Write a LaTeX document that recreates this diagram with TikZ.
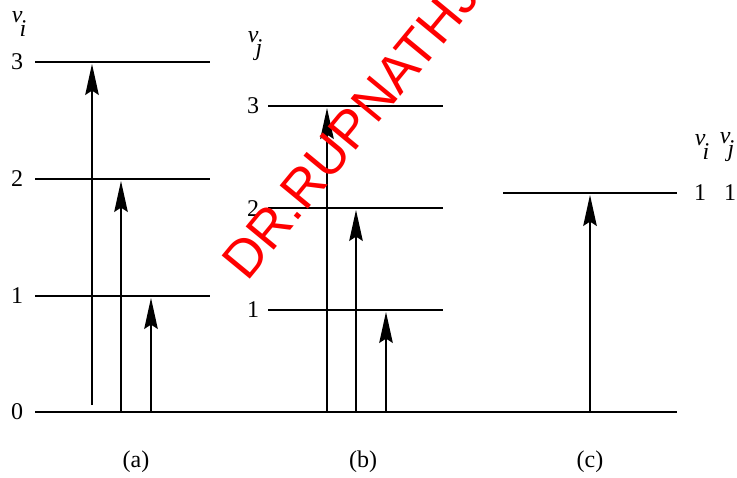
\documentclass[tikz,border=0pt]{standalone}
\usepackage{fontspec}
\setmainfont{Liberation Serif}
\newfontfamily\wmfont{Liberation Sans}
\usetikzlibrary{arrows.meta}
\begin{document}
\begin{tikzpicture}[x=0.5pt,y=-0.5pt,
  level/.style={line width=0.65pt},
  trans/.style={line width=0.65pt,-{Stealth[length=15.5pt,width=6.8pt,inset=2.2pt]}},
  lab/.style={font=\fontsize{12}{14}\selectfont, inner sep=0pt},
  wm/.style={text=red, font=\wmfont\fontsize{26.5}{26.5}\selectfont, inner sep=0pt},
]
\useasboundingbox (0,0) rectangle (737,477);

% ground level
\coordinate (g0) at (35,412);
\coordinate (g1) at (677,412);
\draw[level] (g0) -- (g1);

% (a) levels
\coordinate (a1l) at (35,296); \coordinate (a1r) at (210,296);
\coordinate (a2l) at (35,179); \coordinate (a2r) at (210,179);
\coordinate (a3l) at (35,62);  \coordinate (a3r) at (210,62);
\draw[level] (a1l) -- (a1r);
\draw[level] (a2l) -- (a2r);
\draw[level] (a3l) -- (a3r);
\node[lab] (la0) at (17,412) {0};
\node[lab] (la1) at (17,296) {1};
\node[lab] (la2) at (17,179) {2};
\node[lab] (la3) at (17,62) {3};
\node[lab] (vi) at (19,24) {\itshape v\kern-0.12em\raisebox{-0.55em}{i}};

% (a) transitions
\coordinate (as3) at (92,405);  \coordinate (at3) at (92,64);
\coordinate (as2) at (121,412); \coordinate (at2) at (121,181);
\coordinate (as1) at (151,412); \coordinate (at1) at (151,298);
\draw[trans] (as3) -- (at3);
\draw[trans] (as2) -- (at2);
\draw[trans] (as1) -- (at1);

% (b) levels
\coordinate (b1l) at (268,310); \coordinate (b1r) at (443,310);
\coordinate (b2l) at (268,208); \coordinate (b2r) at (443,208);
\coordinate (b3l) at (268,106); \coordinate (b3r) at (443,106);
\draw[level] (b1l) -- (b1r);
\draw[level] (b2l) -- (b2r);
\draw[level] (b3l) -- (b3r);
\node[lab] (lb1) at (253,310) {1};
\node[lab] (lb2) at (253,209) {2};
\node[lab] (lb3) at (253,106) {3};
\node[lab] (vj) at (255,46) {\itshape v\kern-0.12em\raisebox{-0.55em}{j}};

% (b) transitions
\coordinate (bs3) at (327,412); \coordinate (bt3) at (327,108);
\coordinate (bs2) at (356,412); \coordinate (bt2) at (356,210);
\coordinate (bs1) at (386,412); \coordinate (bt1) at (386,312);
\draw[trans] (bs3) -- (bt3);
\draw[trans] (bs2) -- (bt2);
\draw[trans] (bs1) -- (bt1);

% (c) level
\coordinate (c1l) at (503,193); \coordinate (c1r) at (677,193);
\draw[level] (c1l) -- (c1r);
\coordinate (cs) at (590,412); \coordinate (ct) at (590,195);
\draw[trans] (cs) -- (ct);
\node[lab] (lc1) at (700,193) {1};
\node[lab] (lc2) at (730,193) {1};
\node[lab] (vic) at (702,147) {\itshape v\kern-0.12em\raisebox{-0.55em}{i}};
\node[lab] (vjc) at (727,147) {\itshape v\kern-0.12em\raisebox{-0.55em}{j}};

% captions
\node[lab] (capa) at (136,462) {(a)};
\node[lab] (capb) at (363,462) {(b)};
\node[lab] (capc) at (590,462) {(c)};

% watermark
\begin{scope}
\clip (0,0) rectangle (737,477);
\node[wm, rotate=50.5, anchor=base west] (wmark) at (247,283) {DR.RUPNATHJI};
\end{scope}
\end{tikzpicture}
\end{document}
